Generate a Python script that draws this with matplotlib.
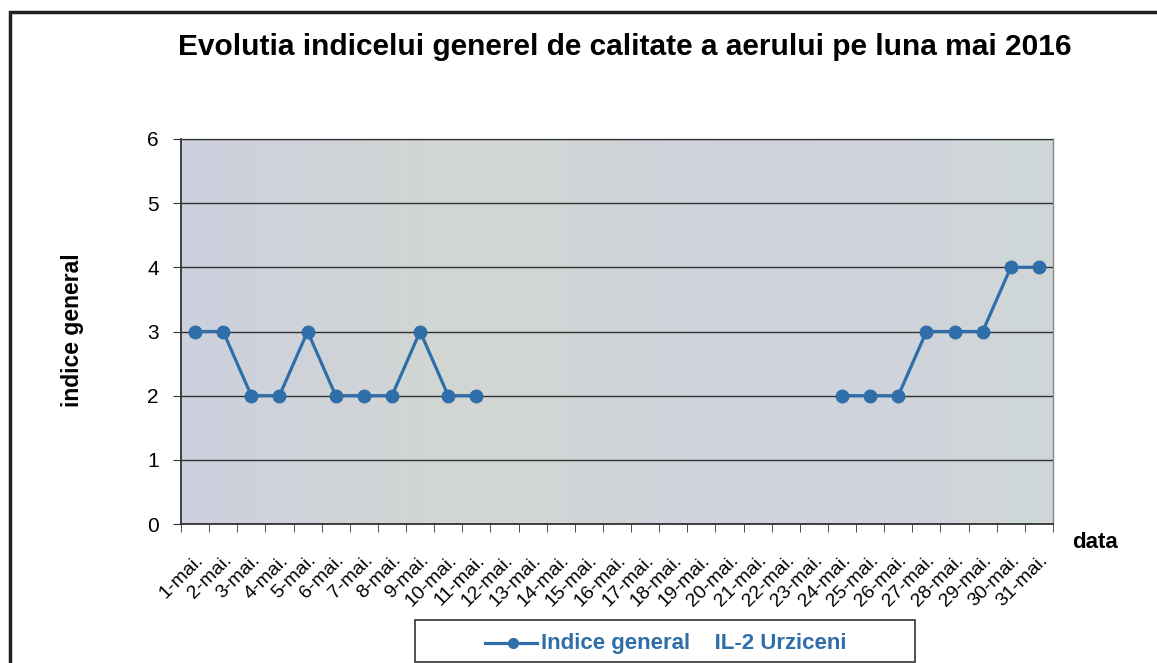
import matplotlib
matplotlib.use("Agg")
import matplotlib.pyplot as plt
from matplotlib.patches import Rectangle
from matplotlib.lines import Line2D
import numpy as np

# Data: indicele general, statia IL-2 Urziceni, mai 2016 (lipsa 12-23 mai)
zile = [f"{d}-mai." for d in range(1, 32)]
indice = [3, 3, 2, 2, 3, 2, 2, 2, 3, 2, 2,
          np.nan, np.nan, np.nan, np.nan, np.nan, np.nan,
          np.nan, np.nan, np.nan, np.nan, np.nan, np.nan,
          2, 2, 2, 3, 3, 3, 4, 4]
yticks = [0, 1, 2, 3, 4, 5, 6]

plt.rcParams['font.family'] = ['Liberation Sans', 'DejaVu Sans']

W, H = 1157, 663
fig = plt.figure(figsize=(W / 100, H / 100), dpi=100)
blue = "#2f6ea8"

def fx(px):
    return px / W

def fy(py):
    return 1 - py / H

# outer frame
fig.patches.append(Rectangle((fx(10), fy(700)), fx(1200), fy(12) - fy(700),
                             transform=fig.transFigure, fill=False,
                             edgecolor="#222222", lw=2.5))

ax = fig.add_axes([fx(181), fy(524), fx(1053) - fx(181), fy(139) - fy(524)])
ax.set_facecolor("#cfd3dc")
# soft background gradient like the scanned chart
grad = np.linspace(0, 1, 256).reshape(1, -1)
ax.imshow(grad, extent=[-0.5, 30.5, 0, 6], aspect="auto", cmap=matplotlib.colors.LinearSegmentedColormap.from_list(
    "bg", ["#cdd0df", "#d3d8d2", "#cfd2de", "#d0d8d8"]), zorder=0, alpha=0.9)

x = np.arange(len(zile))
ax.plot(x, indice, color=blue, lw=2.3, marker="o", ms=9, zorder=3)

ax.set_xlim(-0.5, len(zile) - 0.5)
ax.set_ylim(0, 6)
ax.set_yticks(yticks)
ax.set_yticklabels([str(v) for v in yticks], fontsize=15)
ax.yaxis.grid(True, color="#333333", lw=1.0)
ax.set_axisbelow(False)

ax.set_xticks(x)
ax.set_xticklabels(zile, rotation=45, ha="right", rotation_mode="anchor", fontsize=14)
ax.tick_params(axis="x", which="major", length=0, pad=20)
ax.set_xticks(np.arange(-0.5, len(zile)), minor=True)
ax.tick_params(axis="x", which="minor", length=6, color="#333333", direction="out")
ax.tick_params(axis="y", length=6, color="#333333", direction="out", pad=10)

for s in ["top", "right"]:
    ax.spines[s].set_color("#888888")
    ax.spines[s].set_linewidth(1.0)
for s in ["left", "bottom"]:
    ax.spines[s].set_color("#333333")
    ax.spines[s].set_linewidth(1.3)

fig.text(fx(625), fy(47), "Evolutia indicelui generel de calitate a aerului pe luna mai 2016",
         ha="center", va="center", fontsize=21.5, fontweight="bold")
fig.text(fx(72), fy(330), "indice general", rotation=90, ha="center", va="center",
         fontsize=16.5, fontweight="bold")
fig.text(fx(1095), fy(543), "data", ha="center", va="center", fontsize=16, fontweight="bold")

# legend box
fig.patches.append(Rectangle((fx(415), fy(662)), fx(915) - fx(415), fy(620) - fy(662),
                             transform=fig.transFigure, facecolor="white",
                             edgecolor="#333333", lw=1.2))
fig.lines.append(Line2D([fx(485), fx(537)], [fy(643), fy(643)], transform=fig.transFigure,
                        color=blue, lw=2.3, zorder=5))
fig.lines.append(Line2D([fx(513)], [fy(643)], transform=fig.transFigure,
                        color=blue, marker="o", ms=7, zorder=6))
fig.text(fx(541), fy(643), "Indice general    IL-2 Urziceni", ha="left", va="center",
         fontsize=16, fontweight="bold", color=blue)

fig.savefig("out.png", dpi=100)
